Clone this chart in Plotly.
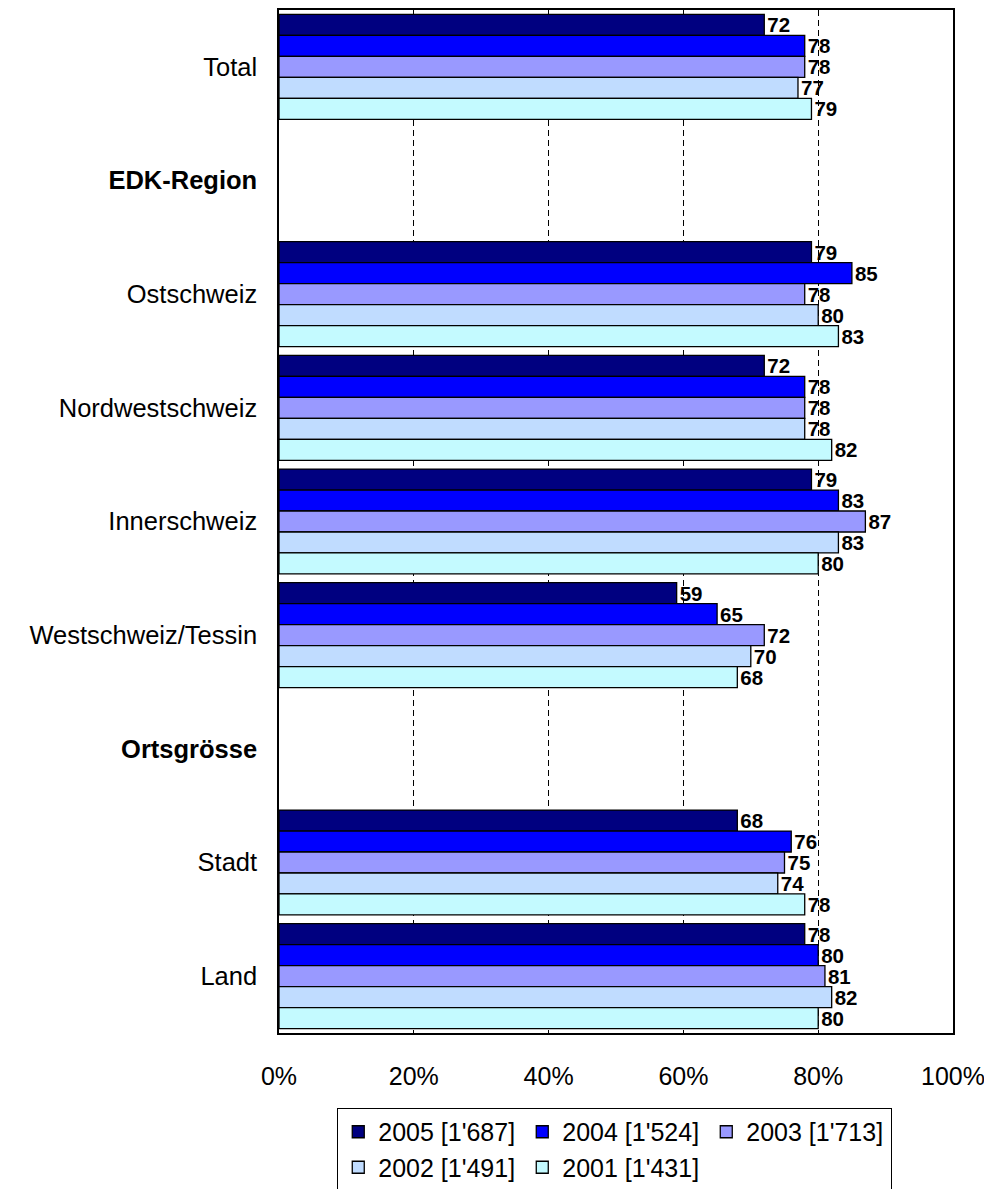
import plotly.graph_objects as go

categories = ["Total", "EDK-Region", "Ostschweiz", "Nordwestschweiz", "Innerschweiz",
              "Westschweiz/Tessin", "Ortsgrösse", "Stadt", "Land"]
headers = ["EDK-Region", "Ortsgrösse"]

series_names = ["2005 [1'687]", "2004 [1'524]", "2003 [1'713]", "2002 [1'491]", "2001 [1'431]"]
v2005 = [72, None, 79, 72, 79, 59, None, 68, 78]
v2004 = [78, None, 85, 78, 83, 65, None, 76, 80]
v2003 = [78, None, 78, 78, 87, 72, None, 75, 81]
v2002 = [77, None, 80, 78, 83, 70, None, 74, 82]
v2001 = [79, None, 83, 82, 80, 68, None, 78, 80]
series_values = [v2005, v2004, v2003, v2002, v2001]
colors = ["#000080", "#0000FF", "#9999FF", "#C0DCFF", "#C4FAFF"]

x_ticks = [0, 20, 40, 60, 80, 100]
x_ticklabels = ["0%", "20%", "40%", "60%", "80%", "100%"]

FONT = "Liberation Sans, Arial, sans-serif"

fig = go.Figure()
for name, vals, col in zip(series_names, series_values, colors):
    fig.add_trace(go.Bar(
        y=categories, x=vals, name=name, orientation="h",
        marker=dict(color=col, line=dict(color="black", width=1.3)),
        text=["" if v is None else str(v) for v in vals],
        textposition="outside", constraintext="none", cliponaxis=False,
        textfont=dict(family=FONT, size=20.5, color="black", weight="bold"),
        hoverinfo="skip",
    ))

ticktext = ["<b>%s</b>" % c if c in headers else c for c in categories]

fig.update_layout(
    width=992, height=1189,
    margin=dict(l=271, r=47, t=2, b=164, autoexpand=False),
    paper_bgcolor="white", plot_bgcolor="white",
    barmode="group", bargap=0.077, bargroupgap=0,
    font=dict(family=FONT, size=25, color="black"),
    showlegend=True,
    legend=dict(
        orientation="h", x=0.086, xanchor="left", y=-0.073, yanchor="top",
        bordercolor="black", borderwidth=1.3, bgcolor="white",
        font=dict(family=FONT, size=25, color="black"),
        entrywidth=139, entrywidthmode="pixels", traceorder="normal",
    ),
    xaxis=dict(
        range=[0, 100], tickvals=x_ticks, ticktext=x_ticklabels,
        showgrid=True, gridcolor="black", gridwidth=1, griddash="6px,4px",
        showline=True, linecolor="black", linewidth=1.5, mirror=True,
        ticks="", ticklabelstandoff=20, zeroline=False, automargin=False,
        tickfont=dict(family=FONT, size=25, color="black"),
    ),
    yaxis=dict(
        type="category", categoryorder="array", categoryarray=categories,
        tickvals=categories, ticktext=ticktext,
        autorange="reversed", showgrid=False, automargin=False,
        showline=True, linecolor="black", linewidth=1.5, mirror=True,
        ticks="", ticklabelstandoff=15,
        tickfont=dict(family=FONT, size=25.5, color="black"),
    ),
)

fig.write_html("out.html")
